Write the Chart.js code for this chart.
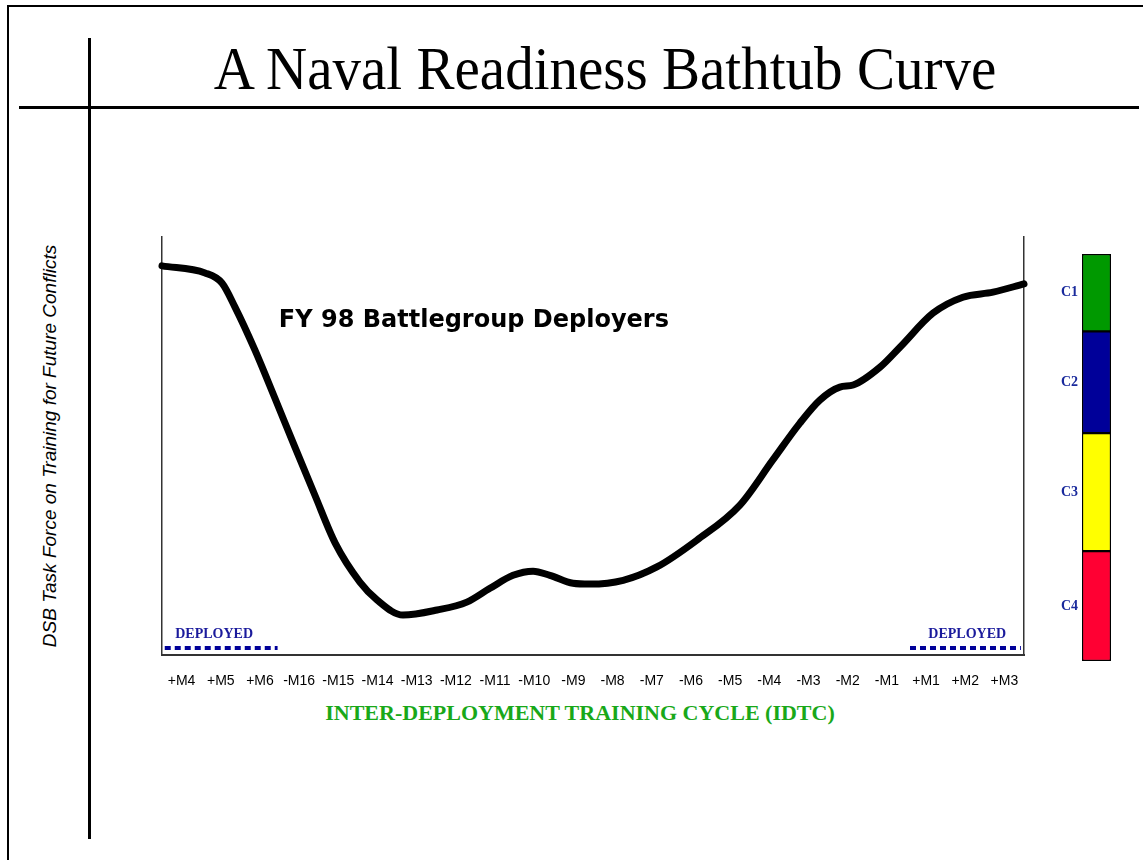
<!DOCTYPE html>
<html>
<head>
<meta charset="utf-8">
<script src="https://cdn.jsdelivr.net/npm/chart.js@4.4.1/dist/chart.umd.min.js"></script>
<style>
  html, body { margin: 0; padding: 0; background: #fff; }
  #page { position: relative; width: 1143px; height: 860px; overflow: hidden; }
  .abs { position: absolute; }
  .line { position: absolute; background: #000; }
  #title { left: 605px; top: 37px; transform: translateX(-50%) scaleX(0.92); font: 62px/1 "Liberation Serif", "Times New Roman", serif; white-space: nowrap; color: #000; }
  #side { left: 50px; top: 446px; transform: translate(-50%, -50%) rotate(-90deg); font: italic 19px "Liberation Sans", Arial, sans-serif; white-space: nowrap; color: #000; }
  #xtitle { left: 580px; top: 713px; transform: translate(-50%, -50%); font: bold 22px "Liberation Serif", "Times New Roman", serif; color: #19a819; white-space: nowrap; }
  #main { position: absolute; left: 0; top: 0; }
  #bands { position: absolute; left: 1040px; top: 240px; }
</style>
</head>
<body>
<div id="page">
  <div class="line" style="left:7px; top:5px; width:1136px; height:2px;"></div>
  <div class="line" style="left:7px; top:5px; width:2px; height:855px;"></div>
  <div class="line" style="left:88px; top:38px; width:3px; height:801px;"></div>
  <div class="line" style="left:19px; top:106px; width:1120px; height:3px;"></div>
  <div id="title" class="abs">A Naval Readiness Bathtub Curve</div>
  <div id="side" class="abs">DSB Task Force on Training for Future Conflicts</div>
  <div id="xtitle" class="abs">INTER-DEPLOYMENT TRAINING CYCLE (IDTC)</div>
  <canvas id="main" width="1143" height="860"></canvas>
  <canvas id="bands" width="100" height="440"></canvas>
</div>
<script>
// mesi del ciclo (etichette asse X)
var months = ['+M4', '+M5', '+M6', '-M16', '-M15', '-M14', '-M13', '-M12', '-M11', '-M10', '-M9',
  '-M8', '-M7', '-M6', '-M5', '-M4', '-M3', '-M2', '-M1', '+M1', '+M2', '+M3'];

// curva di prontezza: posizione nel ciclo (mesi) e livello (0-100)
var cycleX = [0, 1.1, 1.53, 1.86, 2.37, 2.88, 3.39, 3.9, 4.42, 5.05, 5.49, 6.15, 7.02, 7.78, 8.37,
  8.96, 9.47, 9.9, 10.49, 10.92, 11.77, 12.63, 13.65, 14.75, 15.59, 16.28, 16.79, 17.3, 17.64,
  18.33, 18.84, 19.68, 20.44, 21.21, 22];
var readiness = [93.1, 91.4, 89.0, 83.3, 73.0, 61.5, 49.8, 38.3, 26.8, 17.5, 13.2, 9.6, 10.8, 12.7, 16.0,
  19.1, 20.1, 19.1, 17.2, 17.0, 17.9, 21.1, 27.5, 35.9, 46.7, 55.5, 61.0, 64.1, 64.6,
  68.9, 73.7, 81.8, 85.6, 86.8, 88.8];

// periodi di schieramento
var deployedLeft = [0.07, 2.95];
var deployedRight = [19.09, 21.92];
var deployedLevel = 1.7;

// bande C1-C4 (quota della scala)
var bandNames = ['C4', 'C3', 'C2', 'C1'];
var bandSizes = [27, 29, 25, 19];
var bandColors = ['#ff0033', '#ffff00', '#000099', '#009900'];

function pts(xs, ys) {
  return xs.map(function (x, i) { return { x: x, y: Array.isArray(ys) ? ys[i] : ys }; });
}

var labelPlugin = {
  id: 'labels',
  afterDatasetsDraw: function (chart) {
    var c = chart.ctx, sx = chart.scales.x, sy = chart.scales.y;
    c.save();
    c.fillStyle = '#1a1a9c';
    c.font = 'bold 14px "Liberation Serif", "Times New Roman", serif';
    c.textAlign = 'center';
    c.textBaseline = 'middle';
    c.fillText('DEPLOYED', sx.getPixelForValue(1.33), sy.getPixelForValue(5));
    c.fillText('DEPLOYED', sx.getPixelForValue(20.55), sy.getPixelForValue(5));
    c.fillStyle = '#000';
    c.font = 'bold 24px "DejaVu Sans", Arial, sans-serif';
    c.fillText('FY 98 Battlegroup Deployers', sx.getPixelForValue(7.96), sy.getPixelForValue(80));
    c.restore();
  }
};

new Chart(document.getElementById('main'), {
  type: 'line',
  data: {
    datasets: [
      {
        data: pts(cycleX, readiness),
        borderColor: '#000',
        borderWidth: 7,
        cubicInterpolationMode: 'monotone',
        pointRadius: 0,
        borderCapStyle: 'round',
        borderJoinStyle: 'round',
        clip: false
      },
      {
        data: pts(deployedLeft, deployedLevel),
        borderColor: '#000099',
        borderWidth: 4,
        borderDash: [6, 4],
        pointRadius: 0
      },
      {
        data: pts(deployedRight, deployedLevel),
        borderColor: '#000099',
        borderWidth: 4,
        borderDash: [6, 4],
        pointRadius: 0
      }
    ]
  },
  options: {
    responsive: false,
    animation: false,
    layout: { padding: { left: 162, top: 237, right: 119, bottom: 152 } },
    plugins: { legend: { display: false }, tooltip: { enabled: false } },
    scales: {
      x: {
        type: 'linear',
        min: 0,
        max: months.length,
        afterBuildTicks: function (axis) {
          axis.ticks = months.map(function (m, i) { return { value: i + 0.5 }; });
        },
        ticks: {
          autoSkip: false,
          maxRotation: 0,
          padding: 18,
          color: '#000',
          font: { family: '"Liberation Sans", Arial, sans-serif', size: 14 },
          callback: function (v) { return months[Math.floor(v)]; }
        },
        grid: { display: false, drawTicks: false },
        border: { color: '#333', width: 2 }
      },
      y: {
        min: 0,
        max: 100,
        ticks: { display: false },
        grid: { display: false, drawTicks: false },
        border: { color: '#333', width: 1.5 }
      },
      y2: {
        position: 'right',
        min: 0,
        max: 100,
        ticks: { display: false },
        grid: { display: false, drawTicks: false },
        border: { color: '#333', width: 1.5 }
      }
    }
  },
  plugins: [labelPlugin]
});

var bandLabelPlugin = {
  id: 'bandLabels',
  afterDatasetsDraw: function (chart) {
    var c = chart.ctx;
    c.save();
    c.fillStyle = '#1a2a9c';
    c.font = 'bold 14px "Liberation Serif", "Times New Roman", serif';
    c.textAlign = 'right';
    c.textBaseline = 'middle';
    chart.data.datasets.forEach(function (ds, i) {
      var bar = chart.getDatasetMeta(i).data[0];
      c.fillText(ds.label, chart.chartArea.left - 4, (bar.y + bar.base) / 2);
    });
    c.restore();
  }
};

new Chart(document.getElementById('bands'), {
  type: 'bar',
  data: {
    labels: ['C'],
    datasets: bandNames.map(function (n, i) {
      return {
        label: n,
        data: [bandSizes[i]],
        backgroundColor: bandColors[i],
        borderColor: '#000',
        borderWidth: 1.5,
        borderSkipped: false,
        barPercentage: 1,
        categoryPercentage: 1
      };
    })
  },
  options: {
    responsive: false,
    animation: false,
    layout: { padding: { left: 42, right: 29, top: 14, bottom: 19 } },
    plugins: { legend: { display: false }, tooltip: { enabled: false } },
    scales: {
      x: { stacked: true, display: false },
      y: { stacked: true, display: false, min: 0, max: 100 }
    }
  },
  plugins: [bandLabelPlugin]
});
</script>
</body>
</html>
